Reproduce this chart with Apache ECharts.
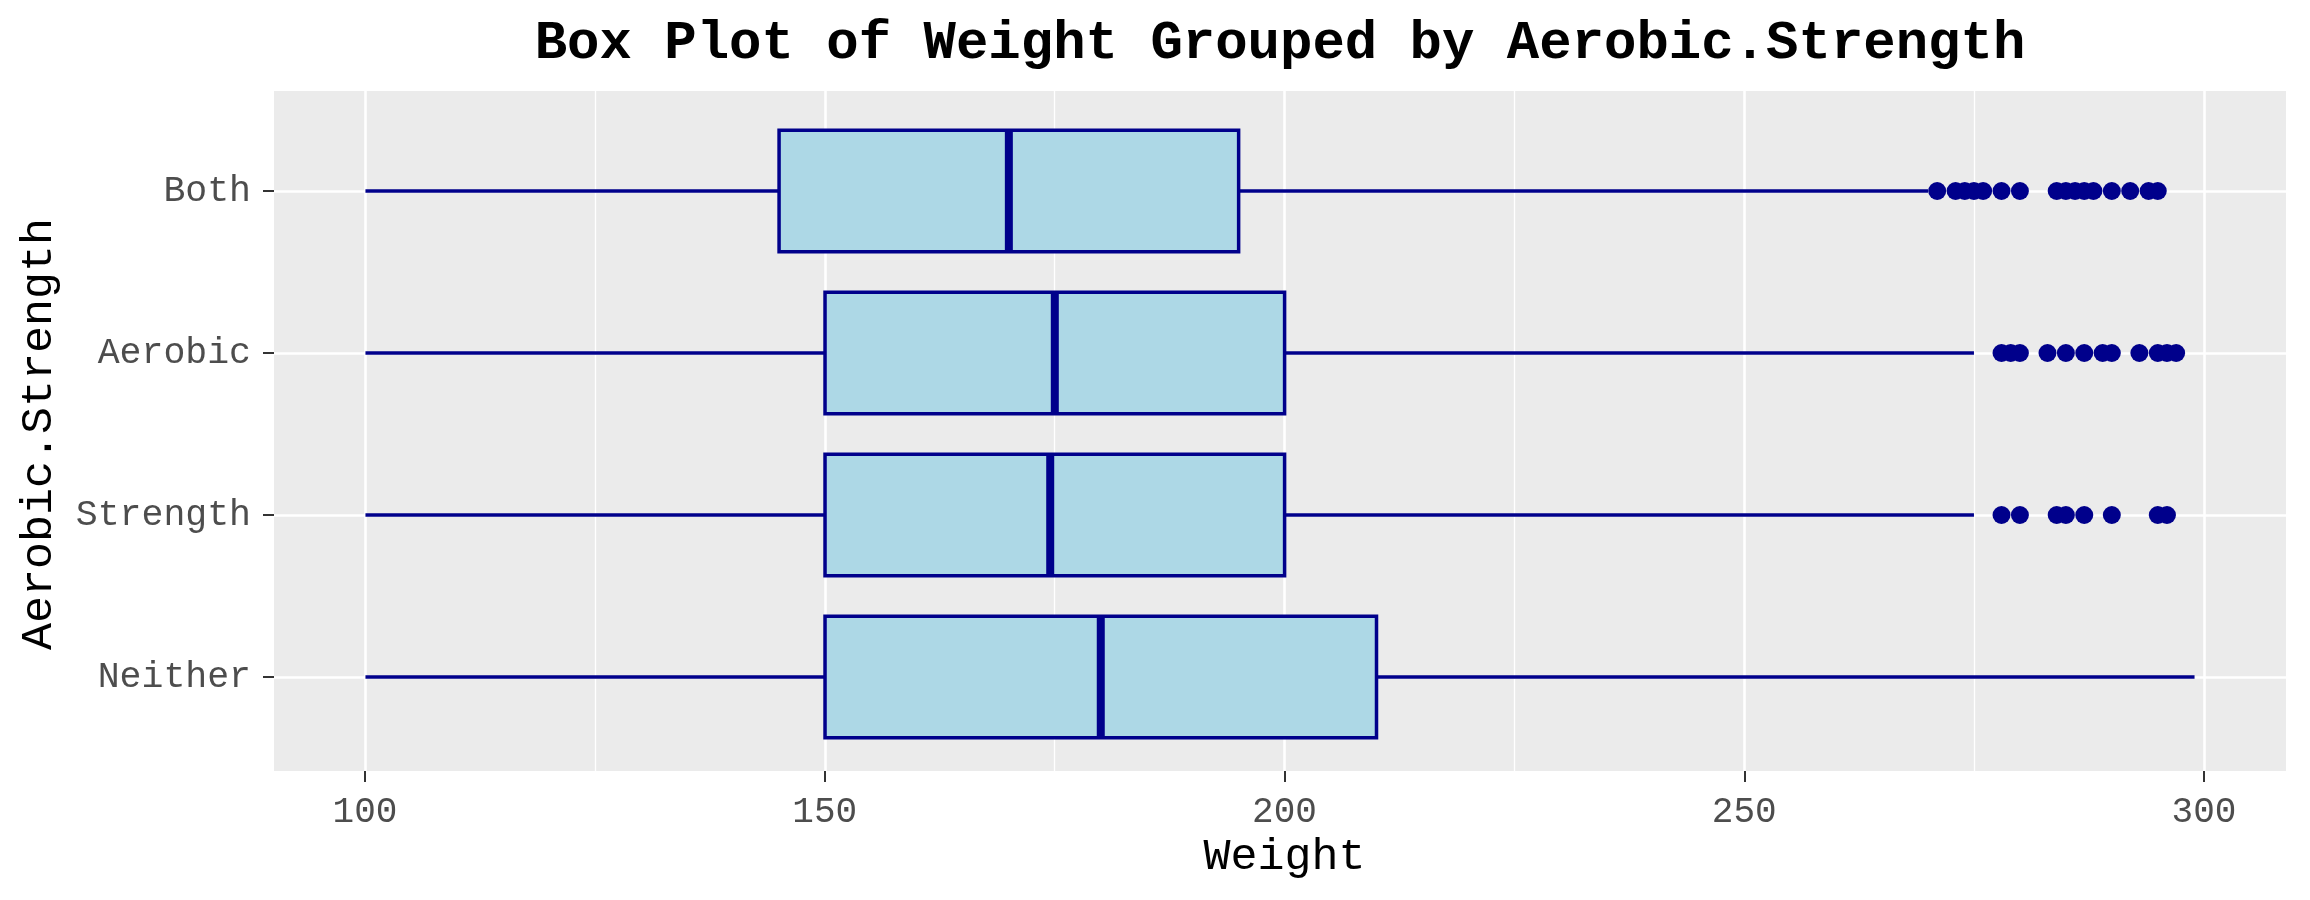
<!DOCTYPE html>
<html>
<head>
<meta charset="utf-8">
<script src="https://cdn.jsdelivr.net/npm/echarts@6/dist/echarts.min.js"></script>
<style>
html,body{margin:0;padding:0;background:#fff;}
#chart{width:2310px;height:900px;}
</style>
</head>
<body>
<div id="chart"></div>
<script>
// Categories (bottom to top, as drawn)
const categories = ['Neither', 'Strength', 'Aerobic', 'Both'];
// Box statistics per category
const lowerWhisker = [100, 100, 100, 100];
const q1Values = [150, 150, 150, 145];
const medianValues = [180, 174.5, 175, 170];
const q3Values = [210, 200, 200, 195];
const upperWhisker = [299, 275, 275, 270];
// Outliers per category
const outliersBoth = [271, 273, 274, 275, 276, 278, 280, 284, 285, 286, 287, 288, 290, 292, 294, 295];
const outliersAerobic = [278, 279, 280, 283, 285, 287, 289, 290, 293, 295, 296, 297];
const outliersStrength = [278, 280, 284, 285, 287, 290, 295, 296];
const outliersNeither = [];
// X tick labels
const xTicks = [100, 150, 200, 250, 300];

const FONT = 'Liberation Mono';
const BOX_FILL = '#ADD8E6';
const BOX_LINE = '#00008B';

const boxData = categories.map((c, i) => [i, lowerWhisker[i], q1Values[i], medianValues[i], q3Values[i], upperWhisker[i]]);
const outlierData = [];
[[outliersNeither, 'Neither'], [outliersStrength, 'Strength'], [outliersAerobic, 'Aerobic'], [outliersBoth, 'Both']].forEach(([arr, name]) => {
  arr.forEach(v => outlierData.push([v, name]));
});

function renderBox(params, api) {
  const c = api.value(0);
  const low = api.coord([api.value(1), c]);
  const q1p = api.coord([api.value(2), c]);
  const med = api.coord([api.value(3), c]);
  const q3p = api.coord([api.value(4), c]);
  const high = api.coord([api.value(5), c]);
  const step = Math.abs(api.coord([200, 1])[1] - api.coord([200, 0])[1]);
  const h = step * 0.75 / 2;
  const y = low[1];
  const lw = 3.5;
  return {
    type: 'group',
    children: [
      { type: 'line', shape: { x1: low[0], y1: y, x2: q1p[0], y2: y }, style: { stroke: BOX_LINE, lineWidth: lw } },
      { type: 'line', shape: { x1: q3p[0], y1: y, x2: high[0], y2: y }, style: { stroke: BOX_LINE, lineWidth: lw } },
      { type: 'rect', shape: { x: q1p[0], y: y - h, width: q3p[0] - q1p[0], height: 2 * h }, style: { fill: BOX_FILL, stroke: BOX_LINE, lineWidth: lw } },
      { type: 'line', shape: { x1: med[0], y1: y - h, x2: med[0], y2: y + h }, style: { stroke: BOX_LINE, lineWidth: 8 } }
    ]
  };
}

const chart = echarts.init(document.getElementById('chart'), null, { renderer: 'canvas' });
const option = {
  animation: false,
  backgroundColor: '#ffffff',
  graphic: [
    {
      type: 'text', x: 1280, y: 17, z: 10,
      style: {
        text: 'Box Plot of Weight Grouped by Aerobic.Strength',
        textAlign: 'center', textVerticalAlign: 'top',
        fontFamily: FONT, fontWeight: 'bold', fontSize: 54, fill: '#000'
      }
    }
  ],
  grid: [
    // panel background
    { left: 274, right: 24, top: 91, bottom: 129, show: true, backgroundColor: '#EBEBEB', borderWidth: 0 },
    // data grid (category centers)
    { left: 274, right: 24, top: 191, bottom: 223 },
    // x tick grid (100..300)
    { left: 365, right: 106, top: 91, bottom: 129 }
  ],
  xAxis: [
    { gridIndex: 0, type: 'value', min: 0, max: 1, show: false },
    { gridIndex: 1, type: 'value', min: 90.05, max: 308.95, show: false },
    {
      gridIndex: 2, type: 'value', min: xTicks[0], max: xTicks[xTicks.length - 1], interval: 50,
      axisLine: { show: false },
      axisTick: { show: true, length: 11, lineStyle: { color: '#333333', width: 2 } },
      axisLabel: { fontFamily: FONT, fontSize: 36, color: '#4D4D4D', margin: 23 },
      splitLine: { show: true, lineStyle: { color: '#FFFFFF', width: 2.6 } },
      minorTick: { show: false, splitNumber: 2 },
      minorSplitLine: { show: true, lineStyle: { color: '#FFFFFF', width: 1.3 } },
      name: 'Weight', nameLocation: 'middle', nameGap: 61,
      nameTextStyle: { fontFamily: FONT, fontSize: 45, color: '#000' }
    }
  ],
  yAxis: [
    { gridIndex: 0, type: 'value', min: 0, max: 1, show: false },
    {
      gridIndex: 1, type: 'category', data: categories, boundaryGap: false,
      axisLine: { show: false },
      axisTick: { show: true, length: 11, lineStyle: { color: '#333333', width: 2 } },
      axisLabel: { fontFamily: FONT, fontSize: 36.5, color: '#4D4D4D', margin: 23 },
      splitLine: { show: true, lineStyle: { color: '#FFFFFF', width: 2.6 } },
      name: 'Aerobic.Strength', nameLocation: 'middle', nameRotate: 90, nameGap: 212,
      nameTextStyle: { fontFamily: FONT, fontSize: 45, color: '#000' }
    },
    { gridIndex: 2, type: 'value', min: 0, max: 1, show: false }
  ],
  series: [
    {
      type: 'custom', xAxisIndex: 1, yAxisIndex: 1,
      renderItem: renderBox,
      encode: { x: [1, 2, 3, 4, 5], y: 0 },
      data: boxData, z: 3
    },
    {
      type: 'scatter', xAxisIndex: 1, yAxisIndex: 1,
      symbol: 'circle', symbolSize: 18,
      itemStyle: { color: BOX_LINE, opacity: 1 },
      data: outlierData, z: 4
    }
  ]
};
chart.setOption(option);
</script>
</body>
</html>
